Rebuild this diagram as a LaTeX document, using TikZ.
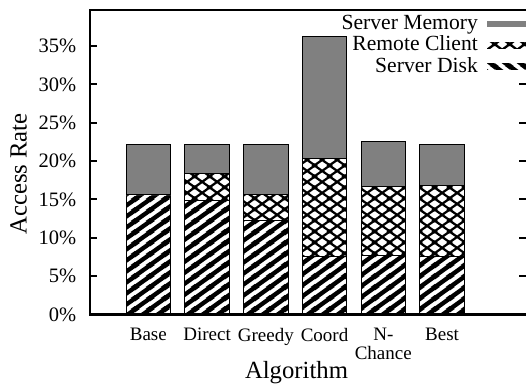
\documentclass[tikz,border=0pt]{standalone}
\usepackage{fontspec}
\setmainfont{Liberation Serif}
\usepackage{tikz}
\usetikzlibrary{patterns}

% Heavy stripes for the server disk part
\pgfdeclarepatternformonly{disk lines}{\pgfqpoint{0pt}{0pt}}{\pgfqpoint{15pt}{11pt}}{\pgfqpoint{15pt}{11pt}}{%
  \pgfsetlinewidth{4.6pt}
  \pgfpathmoveto{\pgfqpoint{-4pt}{-2.93pt}}\pgfpathlineto{\pgfqpoint{19pt}{13.93pt}}
  \pgfpathmoveto{\pgfqpoint{-4pt}{8.07pt}}\pgfpathlineto{\pgfqpoint{4pt}{13.93pt}}
  \pgfpathmoveto{\pgfqpoint{11pt}{-2.93pt}}\pgfpathlineto{\pgfqpoint{19pt}{2.93pt}}
  \pgfusepath{stroke}}
% Same stripes, leaning the other way, as the legend shows them
\pgfdeclarepatternformonly{disk key}{\pgfqpoint{0pt}{0pt}}{\pgfqpoint{15pt}{11pt}}{\pgfqpoint{15pt}{11pt}}{%
  \pgfsetlinewidth{4.6pt}
  \pgfpathmoveto{\pgfqpoint{-4pt}{13.93pt}}\pgfpathlineto{\pgfqpoint{19pt}{-2.93pt}}
  \pgfpathmoveto{\pgfqpoint{-4pt}{2.93pt}}\pgfpathlineto{\pgfqpoint{4pt}{-2.93pt}}
  \pgfpathmoveto{\pgfqpoint{11pt}{13.93pt}}\pgfpathlineto{\pgfqpoint{19pt}{8.07pt}}
  \pgfusepath{stroke}}
% Cross hatch for the remote client part
\pgfdeclarepatternformonly{remote cross}{\pgfqpoint{0pt}{0pt}}{\pgfqpoint{15pt}{11pt}}{\pgfqpoint{15pt}{11pt}}{%
  \pgfsetlinewidth{2.4pt}
  \pgfpathmoveto{\pgfqpoint{-4pt}{-2.93pt}}\pgfpathlineto{\pgfqpoint{19pt}{13.93pt}}
  \pgfpathmoveto{\pgfqpoint{-4pt}{8.07pt}}\pgfpathlineto{\pgfqpoint{4pt}{13.93pt}}
  \pgfpathmoveto{\pgfqpoint{11pt}{-2.93pt}}\pgfpathlineto{\pgfqpoint{19pt}{2.93pt}}
  \pgfpathmoveto{\pgfqpoint{-4pt}{13.93pt}}\pgfpathlineto{\pgfqpoint{19pt}{-2.93pt}}
  \pgfpathmoveto{\pgfqpoint{-4pt}{2.93pt}}\pgfpathlineto{\pgfqpoint{4pt}{-2.93pt}}
  \pgfpathmoveto{\pgfqpoint{11pt}{13.93pt}}\pgfpathlineto{\pgfqpoint{19pt}{8.07pt}}
  \pgfusepath{stroke}}

\definecolor{memgray}{gray}{0.5}

\tikzset{
  frameline/.style={line width=2.2pt},
  tickline/.style={line width=2pt},
  diskbar/.style={preaction={fill=white}, pattern=disk lines, draw=black, line width=1pt},
  remotebar/.style={preaction={fill=white}, pattern=remote cross, draw=black, line width=1pt},
  membar/.style={fill=memgray, draw=black, line width=1pt},
  yticklabel/.style={anchor=east, inner sep=0pt, font=\fontsize{20.5}{24}\selectfont},
  xticklabel/.style={anchor=north, inner sep=0pt, align=center, font=\fontsize{19}{19}\selectfont},
  axislabel/.style={inner sep=0pt, font=\fontsize{24.7}{28}\selectfont},
  legendtext/.style={anchor=base east, inner sep=0pt, font=\fontsize{21.6}{24}\selectfont}
}

\begin{document}
\begin{tikzpicture}[x=1pt,y=1pt]
        \useasboundingbox (0,0) rectangle (526,385);
        % Share of accesses (percent) for each algorithm
        \def\Disk{{15.6,14.9,12.2,7.5,7.7,7.6}}
        \def\Remote{{15.6,18.4,15.7,20.3,16.7,16.8}}
        \def\Memory{{22.2,22.2,22.2,36.2,22.5,22.2}}
        \begin{scope}[shift={(0,70.5)}, y=7.67pt]
            % Draw the stacked bars
            \foreach \i in {0,...,5} {
                \pgfmathsetmacro\cx{148.3+58.75*\i}
                \pgfmathsetmacro\d{\Disk[\i]}
                \pgfmathsetmacro\r{\Remote[\i]}
                \pgfmathsetmacro\m{\Memory[\i]}
                \path[diskbar] (\cx-22.25,0) rectangle (\cx+22.25,\d);
                \path[remotebar] (\cx-22.25,\d) rectangle (\cx+22.25,\r);
                \path[membar] (\cx-22.25,\r) rectangle (\cx+22.25,\m);
            }
            % Draw the ticks on both sides
            \foreach \p in {0,5,...,35} {
                \draw[tickline] (90,\p) -- ++(7pt,0);
                \draw[tickline] (527,\p) -- ++(-8pt,0);
                \node[yticklabel] (ytick\p) at (76.5,\p) {\p\%};
            }
        \end{scope}
        % Draw the frame
        \draw[frameline] (528,70.5) -- (90,70.5) -- (90,374.7) -- (528,374.7);
        \draw[frameline] (527,70.5) -- (527,374.7);
        % Category names
        \foreach \i/\name in {0/Base,1/Direct,2/Greedy,3/Coord,4/{N-\\Chance},5/Best} {
            \node[xticklabel] (xtick\i) at (148.3+58.75*\i,57.3) {\name};
        }
        \node[axislabel, anchor=base] (xlabel) at (296.5,7) {Algorithm};
        \node[axislabel, rotate=90] (ylabel) at (18.5,211) {Access Rate};
        % Legend
        \node[legendtext] (legmem) at (478,355.5) {Server Memory};
        \node[legendtext] (legremote) at (478,334) {Remote Client};
        \node[legendtext] (legdisk) at (478,312) {Server Disk};
        \fill[memgray] (487,358.3) rectangle (532,364);
        \path[preaction={fill=white}, pattern=remote cross] (487,336) rectangle (532,342);
        \path[preaction={fill=white}, pattern=disk key] (487,315) rectangle (532,321);
\end{tikzpicture}
\end{document}
